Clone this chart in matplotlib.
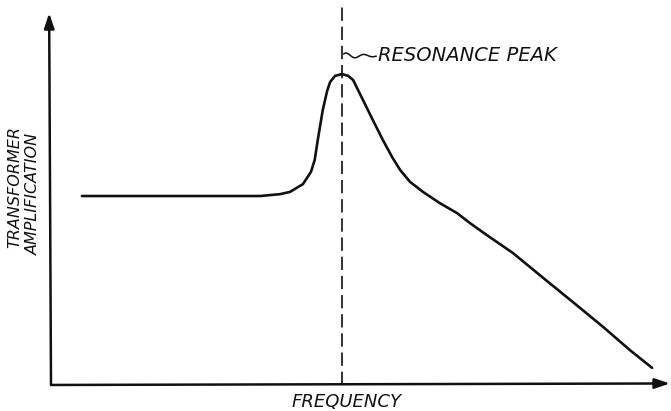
import numpy as np
import matplotlib
matplotlib.use("Agg")
import matplotlib.pyplot as plt

# amplification of an interstage transformer against frequency (arbitrary units)
freq = [5.0, 16.0, 27.3, 33.8, 37.0, 38.6, 40.7, 42.0, 42.6, 43.1, 43.9, 44.6,
        45.1, 45.9, 47.0, 48.0, 48.8, 50.4, 52.0, 53.6, 55.1, 56.4, 58.0, 60.1,
        62.8, 65.6, 67.7, 70.4, 74.6, 79.5, 84.3, 89.2, 93.5, 97.1]
amp = [50.8, 50.8, 50.8, 50.8, 51.3, 51.9, 54.0, 57.3, 60.5, 65.9, 73.9, 79.0,
       81.5, 83.1, 83.6, 83.1, 82.0, 76.6, 71.2, 65.9, 61.3, 57.8, 54.6, 51.9,
       48.9, 46.2, 43.5, 40.3, 35.5, 28.8, 22.3, 15.6, 9.4, 4.6]
f_res = 47.0

fig = plt.figure(figsize=(6.71, 4.11), dpi=100)
ax = fig.add_axes([0, 0, 1, 1])
ax.set_xlim(-8.24, 100.16)
ax.set_ylim(-7.0, 103.5)
ax.axis("off")

ink = "#111111"
font = dict(family="DejaVu Sans", style="oblique", color=ink)

# axes drawn as arrows
arrow = dict(arrowstyle="-|>,head_length=0.9,head_width=0.3", color=ink,
             lw=1.8, shrinkA=0, shrinkB=0)
ax.annotate("", xy=(100, 0.4), xytext=(0, 0), arrowprops=arrow)
ax.annotate("", xy=(-0.3, 100), xytext=(0, 0), arrowprops=arrow)

ax.plot(freq, amp, color=ink, lw=1.9, solid_capstyle="round",
        solid_joinstyle="round")
ax.plot([f_res, f_res], [0, 102.5], color=ink, lw=1.2, dashes=(8, 3.5))

# wavy leader from the label to the resonance line
wx = np.linspace(f_res + 0.3, f_res + 5.5, 40)
wy = 88.5 + 0.9 * np.sin((wx - f_res) * 2.2) * np.exp(-(wx - f_res) / 4)
ax.plot(wx, wy, color=ink, lw=1.1)
ax.text(52.8, 88.7, "RESONANCE PEAK", fontsize=14, ha="left", va="center", **font)

ax.text(47.7, -4.6, "FREQUENCY", fontsize=13, ha="center", va="center", **font)
ax.text(-5.8, 53.2, "TRANSFORMER", fontsize=11.5, rotation=90,
        ha="center", va="center", **font)
ax.text(-2.9, 51.3, "AMPLIFICATION", fontsize=11.5, rotation=90,
        ha="center", va="center", **font)

fig.savefig("out.png", dpi=100)
